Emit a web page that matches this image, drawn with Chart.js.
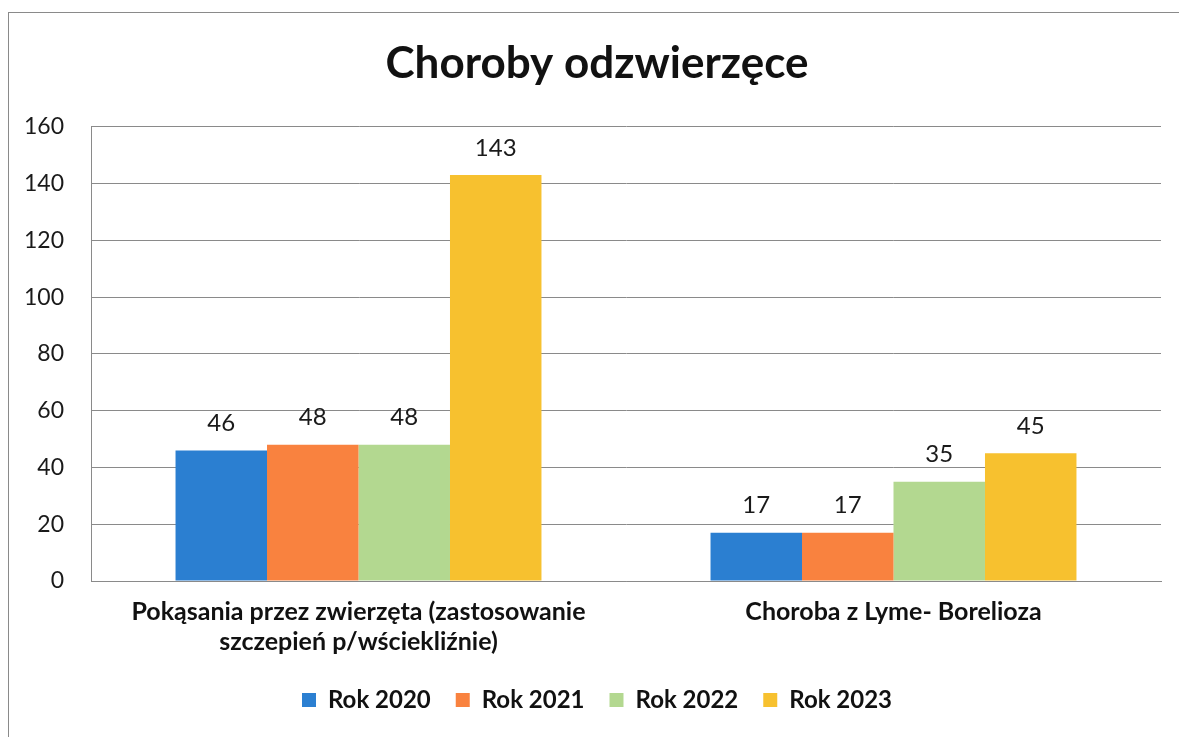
<!DOCTYPE html>
<html>
<head>
<meta charset="utf-8">
<script src="https://cdn.jsdelivr.net/npm/chart.js@4.4.1/dist/chart.umd.min.js"></script>
<style>
  html, body { margin: 0; padding: 0; background: #ffffff; }
  #wrap { position: relative; width: 1179px; height: 737px; overflow: hidden; }
  #frame { position: absolute; left: 8px; top: 12px; width: 1300px; height: 900px; border-left: 1px solid #8a8a8a; border-top: 1px solid #8a8a8a; }
  canvas { position: absolute; left: 0; top: 0; }
</style>
</head>
<body>
<div id="wrap">
  <div id="frame"></div>
  <canvas id="c" width="1179" height="737"></canvas>
</div>
<script>
const categories = [
  ['Pokąsania przez zwierzęta (zastosowanie', 'szczepień p/wściekliźnie)'],
  'Choroba z Lyme- Borelioza'
];
const seriesNames = ['Rok 2020', 'Rok 2021', 'Rok 2022', 'Rok 2023'];
const rok2020 = [46, 17];
const rok2021 = [48, 17];
const rok2022 = [48, 35];
const rok2023 = [143, 45];
const yTicks = [0, 20, 40, 60, 80, 100, 120, 140, 160];
const colors = ['#2b7fd1', '#f9823f', '#b3d890', '#f7c12f'];
const titleText = 'Choroby odzwierzęce';

const valueLabels = {
  id: 'valueLabels',
  afterDatasetsDraw(chart) {
    const ctx = chart.ctx;
    ctx.save();
    ctx.font = '24px Lato';
    ctx.fillStyle = '#1a1a1a';
    ctx.textAlign = 'center';
    ctx.textBaseline = 'middle';
    chart.data.datasets.forEach((ds, di) => {
      const meta = chart.getDatasetMeta(di);
      meta.data.forEach((bar, i) => {
        ctx.fillText(String(ds.data[i]), bar.x, bar.y - 27);
      });
    });
    ctx.restore();
  }
};

// shift the centring band of the title and legend to the right (as in the reference)
const shiftBlocks = {
  id: 'shiftBlocks',
  afterLayout(chart) {
    if (chart.titleBlock) chart.titleBlock.left += 33;
    if (chart.legend) chart.legend.left += 33;
  }
};

const allSeries = [rok2020, rok2021, rok2022, rok2023];
new Chart(document.getElementById('c'), {
  type: 'bar',
  data: {
    labels: categories,
    datasets: allSeries.map((d, i) => ({
      label: seriesNames[i],
      data: d,
      backgroundColor: colors[i],
      borderWidth: 0,
      categoryPercentage: 0.684,
      barPercentage: 1.0
    }))
  },
  options: {
    responsive: false,
    animation: false,
    devicePixelRatio: 1,
    layout: { padding: { left: 0, right: 18, top: 0, bottom: 15 } },
    plugins: {
      title: {
        display: true,
        text: titleText,
        color: '#111111',
        font: { family: 'Lato', size: 44, weight: 'bold', lineHeight: 1.2 },
        padding: { top: 37, bottom: 37 }
      },
      legend: {
        position: 'bottom',
        labels: {
          boxWidth: 14,
          boxHeight: 14,
          padding: 25,
          color: '#111111',
          font: { family: 'Lato', size: 24, weight: 'bold' }
        }
      },
      tooltip: { enabled: false },
      valueLabels: {}
    },
    scales: {
      x: {
        grid: { display: false, drawTicks: false },
        border: { display: true, color: '#8a8a8a', width: 1 },
        ticks: {
          color: '#111111',
          padding: 16,
          font: { family: 'Lato', size: 25, weight: 'bold', lineHeight: 1.2 },
          maxRotation: 0,
          autoSkip: false
        },
        afterFit(scale) { scale.height = 82; }
      },
      y: {
        min: 0,
        max: 160,
        afterBuildTicks(scale) { scale.ticks = yTicks.map(v => ({ value: v })); },
        grid: { color: '#8a8a8a', lineWidth: 1, drawTicks: false },
        border: { display: true, color: '#8a8a8a', width: 1 },
        ticks: {
          color: '#1a1a1a',
          padding: 27,
          font: { family: 'Lato', size: 23 }
        },
        afterFit(scale) { scale.width = 91; }
      }
    }
  },
  plugins: [valueLabels, shiftBlocks]
});
</script>
</body>
</html>
